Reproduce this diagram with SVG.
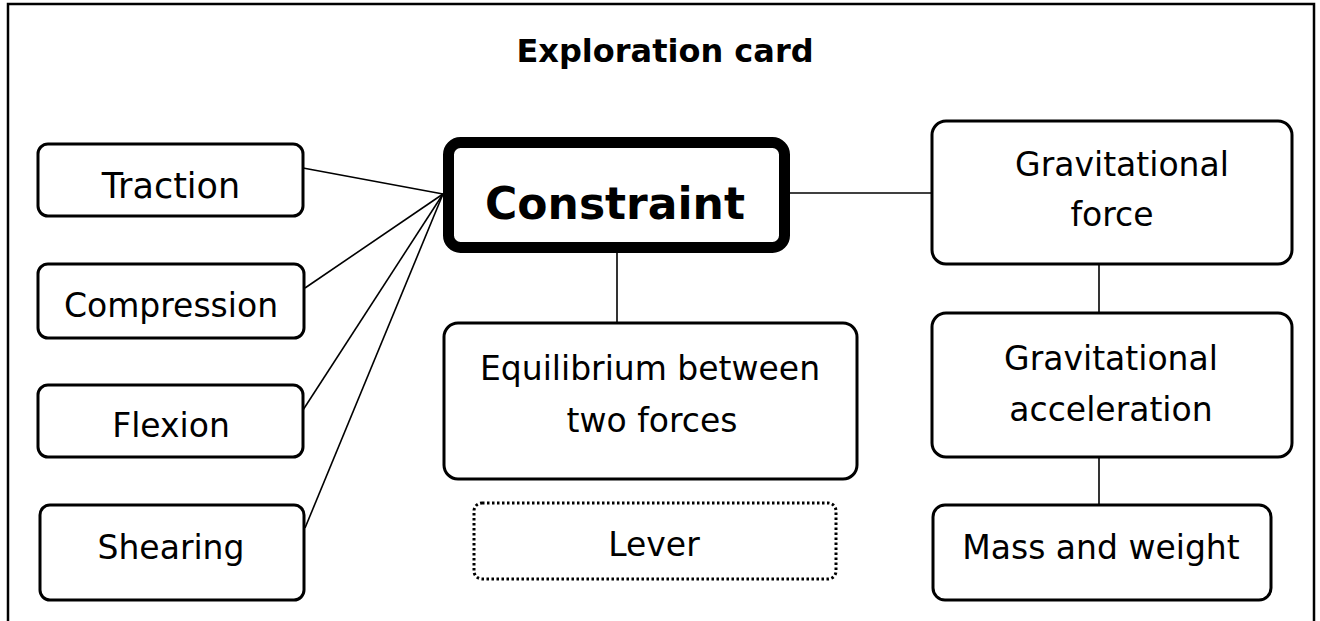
<svg xmlns="http://www.w3.org/2000/svg" width="1320" height="621" viewBox="0 0 1320 621">
<style>
.box{fill:#fff;stroke:#000;stroke-width:3}
.main{fill:#fff;stroke:#000;stroke-width:11}
.dot{fill:#fff;stroke:#000;stroke-width:3;stroke-dasharray:2.5 2.5}
.t{font-family:"DejaVu Sans",sans-serif;font-size:33px;fill:#000;text-anchor:middle}
.b{font-family:"DejaVu Sans",sans-serif;font-weight:bold;fill:#000;text-anchor:middle}
.ln{stroke:#000;stroke-width:1.6;fill:none}
</style>
<rect width="1320" height="621" fill="#fff"/>
<g id="frame" fill="none" stroke="#000" stroke-width="2.5">
<path d="M8,621 V4 H1314 V621"/>
</g>
<text id="title" class="b" x="665" y="62" font-size="32">Exploration card</text>
<g id="connectors" class="ln">
<line x1="303" y1="168" x2="443" y2="194"/>
<line x1="305" y1="288" x2="443" y2="194"/>
<line x1="303" y1="410" x2="443" y2="194"/>
<line x1="305" y1="528" x2="443" y2="194"/>
<line x1="790" y1="193" x2="931" y2="193"/>
<line x1="617" y1="253" x2="617" y2="322"/>
<line x1="1099" y1="264" x2="1099" y2="312"/>
<line x1="1099" y1="457" x2="1099" y2="505"/>
</g>
<g id="traction"><rect class="box" x="38" y="144" width="265" height="72" rx="10"/><text class="t" x="171" y="198" style="font-size:35px">Traction</text></g>
<g id="compression"><rect class="box" x="38" y="264" width="266" height="74" rx="10"/><text class="t" x="171" y="317">Compression</text></g>
<g id="flexion"><rect class="box" x="38" y="385" width="265" height="72" rx="10"/><text class="t" x="171" y="437">Flexion</text></g>
<g id="shearing"><rect class="box" x="40" y="505" width="264" height="95" rx="10"/><text class="t" x="171" y="559">Shearing</text></g>
<g id="constraint"><rect class="main" x="448.5" y="142.5" width="336" height="105" rx="12"/><text class="b" x="615" y="219" font-size="44">Constraint</text></g>
<g id="equilibrium"><rect class="box" x="444" y="323" width="413" height="156" rx="14"/><text class="t" x="650" y="380">Equilibrium between</text><text class="t" x="652" y="432">two forces</text></g>
<g id="lever"><rect class="dot" x="474" y="503" width="362" height="76" rx="8"/><text class="t" x="654" y="556">Lever</text></g>
<g id="gravforce"><rect class="box" x="932" y="121" width="360" height="143" rx="14"/><text class="t" x="1122" y="176">Gravitational</text><text class="t" x="1112" y="226">force</text></g>
<g id="gravaccel"><rect class="box" x="932" y="313" width="360" height="144" rx="14"/><text class="t" x="1111" y="370">Gravitational</text><text class="t" x="1111" y="421">acceleration</text></g>
<g id="mass"><rect class="box" x="933" y="505" width="338" height="95" rx="12"/><text class="t" x="1101" y="559">Mass and weight</text></g>
</svg>
